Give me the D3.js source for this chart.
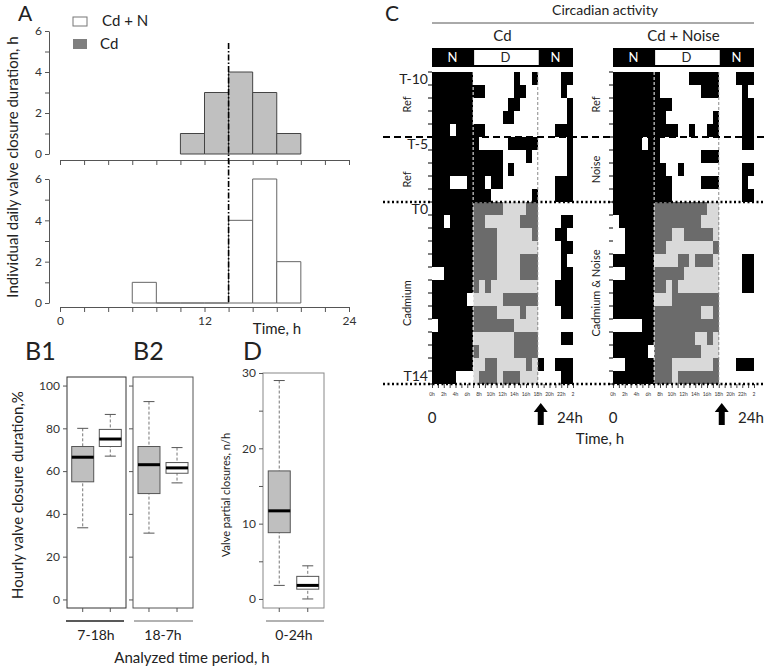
<!DOCTYPE html>
<html>
<head>
<meta charset="utf-8">
<script src="https://cdn.jsdelivr.net/npm/d3@7"></script>
<style>
  body { margin: 0; background: #fff; }
  text { font-family: Lato, "Open Sans", sans-serif; }
</style>
</head>
<body>
<svg id="fig" width="764" height="666"></svg>
<script>
// ---- data ----
const hourTicks = d3.range(0, 25, 2);
const cdBinStart = [10, 12, 14, 16, 18];
const cdCounts = [1, 3, 4, 3, 1];
const cdnBinStart = [6, 8, 10, 12, 14, 16, 18];
const cdnCounts = [1, 0, 0, 0, 4, 6, 2];
const splitHour = 14;

const periods = ['7-18h', '18-7h'];
// [low whisker, Q1, median, Q3, high whisker]
const cdHourly = [[33.5, 55, 66.5, 71.5, 80], [31, 49.5, 63, 71.5, 92.5]];
const cdnHourly = [[67, 71.5, 75, 79.5, 86.5], [54.5, 59, 61.5, 64, 71]];
const cdPartial = [1.8, 8.8, 11.7, 17, 29];
const cdnPartial = [0, 1.3, 1.8, 3, 4.4];

// actograms: one string per day, one char per hour, 1 = valves closed
const cdRows = [
  '111111100000001001000011',
  '111111111000001100000010',
  '111111100000011000000001',
  '111111100000110000000001',
  '111011111000000000000111',
  '111111110000011111000001',
  '111111111111000010000001',
  '111111111111010000000001',
  '111000111011000000000111',
  '111111111100000001000111',
  '111111111111000011000000',
  '110111111000000111000011',
  '111111111110000001000110',
  '111111111110000000000011',
  '111111111110000111000010',
  '001111111110000111000011',
  '111111110100000000000111',
  '111111000000111111000111',
  '111111111110000100000011',
  '011111111111110000000000',
  '111111100000001111000011',
  '111111110000001111000000',
  '111111100110000010100111',
  '111100001110111000000011'
];
const cdnRows = [
  '111111110000011111000111',
  '111111110000000111000010',
  '111111111100000000000011',
  '111111111000000001000011',
  '111111111110010011000011',
  '111110110000000000000011',
  '111111110000000111000000',
  '111111111001000000000011',
  '111111111100000111000010',
  '111111111100000000000011',
  '111111111111111100000000',
  '011111111111111000000000',
  '001111111100111110000000',
  '001111111000000001000000',
  '111111100001101110000011',
  '001111111111000000000011',
  '111111111010000000000011',
  '111111100011111111000000',
  '111111111111111001000000',
  '000001111111111111000000',
  '111111111111110010000000',
  '111111011111111000000000',
  '001111111100000001000111',
  '111111111101111111000000'
];
const dayMarks = [0, 5, 10, 24];
const labelRows = [0, 5, 10, 23];
const dayLabels = ['T-10', 'T-5', 'T0', 'T14'];
const cdSections = ['Ref', 'Ref', 'Cadmium'];
const cdnSections = ['Ref', 'Noise', 'Cadmium & Noise'];
const dayStart = 7, dayEnd = 18;

const svg = d3.select('#fig');

function txt(g, x, y, s, size, anchor) {
  return g.append('text').attr('x', x).attr('y', y).text(s)
    .attr('font-size', size).attr('text-anchor', anchor || 'middle').style('fill', '#222');
}
function styleAxis(g) {
  g.selectAll('path,line').attr('stroke', '#555');
  g.selectAll('text').attr('font-size', 12).style('fill', '#333')
    .style('font-family', 'Lato, sans-serif');
}

// ================= Panel A =================
const A = svg.append('g');
const xA = d3.scaleLinear().domain([0, 24]).range([60, 349]);
const yTop = d3.scaleLinear().domain([0, 6]).range([154, 31]);
const yBot = d3.scaleLinear().domain([0, 6]).range([303, 179]);

function hist(starts, counts, y, fill, stroke) {
  A.selectAll(null).data(starts).enter().append('path')
    .attr('d', (s, i) => `M${xA(s)},${y(0)}V${y(counts[i])}H${xA(s + 2)}V${y(0)}Z`)
    .attr('fill', fill).attr('stroke', stroke).attr('stroke-width', 1);
}
hist(cdBinStart, cdCounts, yTop, '#c0c0c0', '#444');
hist(cdnBinStart, cdnCounts, yBot, '#fff', '#666');

[yTop, yBot].forEach(y => {
  A.append('g').attr('transform', 'translate(49,0)')
    .call(d3.axisLeft(y).tickValues(d3.range(0, 7)).tickFormat(d => d % 2 ? '' : d)
      .tickSize(4).tickSizeOuter(0))
    .call(styleAxis);
});
A.append('g').attr('transform', 'translate(0,160)')
  .call(d3.axisBottom(xA).tickValues(hourTicks).tickFormat('').tickSize(5).tickSizeOuter(0))
  .call(styleAxis);
A.append('g').attr('transform', 'translate(0,307)')
  .call(d3.axisBottom(xA).tickValues(hourTicks).tickFormat(d => d % 12 ? '' : d)
    .tickSize(5).tickSizeOuter(0).tickPadding(4))
  .call(styleAxis);

A.append('line').attr('x1', xA(splitHour)).attr('x2', xA(splitHour))
  .attr('y1', 43).attr('y2', yBot(0))
  .attr('stroke', '#000').attr('stroke-width', 1.6).attr('stroke-dasharray', '6,2,1.5,2');

txt(A, 18, 21, 'A', 21, 'start');
A.append('rect').attr('x', 73).attr('y', 17).attr('width', 14).attr('height', 9)
  .attr('fill', '#fff').attr('stroke', '#777');
A.append('rect').attr('x', 73).attr('y', 39).attr('width', 14).attr('height', 10)
  .attr('fill', '#7f7f7f');
txt(A, 102, 26, 'Cd + N', 15, 'start');
txt(A, 100, 49, 'Cd', 15, 'start');
txt(A, 277, 334, 'Time, h', 15);
txt(A, 0, 0, 'Individual daily  valve closure duration, h', 15)
  .attr('transform', 'translate(18,167) rotate(-90)');

// ================= Panel B and D =================
const B = svg.append('g');
const yB = d3.scaleLinear().domain([-4, 104]).range([608, 377]);
const yD = d3.scaleLinear().domain([-1.2, 30]).range([608, 373]);

function boxPanel(x0, x1, y, sets, frameCol) {
  const xs = d3.scalePoint().domain(['Cd', 'Cd+N']).range([x0, x1]).padding(0.57);
  B.append('rect').attr('x', x0).attr('y', y.range()[1]).attr('width', x1 - x0)
    .attr('height', y.range()[0] - y.range()[1]).attr('fill', 'none').attr('stroke', frameCol);
  sets.forEach(([key, s, fill]) => {
    const cx = xs(key), w = 22, cw = 11;
    B.append('line').attr('x1', cx).attr('x2', cx).attr('y1', y(s[4])).attr('y2', y(s[0]))
      .attr('stroke', '#777').attr('stroke-dasharray', '3,2');
    [s[0], s[4]].forEach(v => B.append('line').attr('x1', cx - cw / 2).attr('x2', cx + cw / 2)
      .attr('y1', y(v)).attr('y2', y(v)).attr('stroke', '#555'));
    B.append('rect').attr('x', cx - w / 2).attr('y', y(s[3])).attr('width', w)
      .attr('height', y(s[1]) - y(s[3])).attr('fill', fill).attr('stroke', '#555');
    B.append('line').attr('x1', cx - w / 2).attr('x2', cx + w / 2).attr('y1', y(s[2]))
      .attr('y2', y(s[2])).attr('stroke', '#000').attr('stroke-width', 3);
    B.append('line').attr('x1', cx).attr('x2', cx).attr('y1', 608).attr('y2', 612)
      .attr('stroke', '#555');
  });
  return xs;
}
boxPanel(67, 126, yB, [['Cd', cdHourly[0], '#bfbfbf'], ['Cd+N', cdnHourly[0], '#fff']], '#333');
boxPanel(133, 193, yB, [['Cd', cdHourly[1], '#bfbfbf'], ['Cd+N', cdnHourly[1], '#fff']], '#555');
boxPanel(263, 324, yD, [['Cd', cdPartial, '#bfbfbf'], ['Cd+N', cdnPartial, '#fff']], '#888');

B.append('g').attr('transform', 'translate(67,0)')
  .call(d3.axisLeft(yB).tickValues(d3.range(0, 101, 20)).tickSize(4).tickSizeOuter(0))
  .call(styleAxis).select('.domain').remove();
B.append('g').attr('transform', 'translate(133,0)')
  .call(d3.axisLeft(yB).tickValues(d3.range(0, 101, 20)).tickFormat('').tickSize(4).tickSizeOuter(0))
  .call(styleAxis).select('.domain').remove();
B.append('g').attr('transform', 'translate(263,0)')
  .call(d3.axisLeft(yD).tickValues(d3.range(0, 31, 5)).tickFormat(d => d % 10 ? '' : d)
    .tickSize(4).tickSizeOuter(0))
  .call(styleAxis).select('.domain').remove();

[[66, 124, '#222'], [134, 193, '#999'], [266, 324, '#999']].forEach(([a, b, c]) =>
  B.append('line').attr('x1', a).attr('x2', b).attr('y1', 621).attr('y2', 621)
    .attr('stroke', c).attr('stroke-width', 1.5));
txt(B, 96, 640, periods[0], 14);
txt(B, 163, 640, periods[1], 14);
txt(B, 294, 640, '0-24h', 14);
txt(B, 192, 663, 'Analyzed time period, h', 15);
txt(B, 25, 360, 'B1', 25, 'start');
txt(B, 133, 360, 'B2', 25, 'start');
txt(B, 243, 360, 'D', 25, 'start');
txt(B, 0, 0, 'Hourly valve closure duration,%', 15).attr('transform', 'translate(23,495) rotate(-90)');
txt(B, 0, 0, 'Valve partial closures, n/h', 11).attr('transform', 'translate(230,495) rotate(-90)');

// ================= Panel C =================
const C = svg.append('g');
const yR = d3.scaleLinear().domain([0, 24]).range([72, 384]);
const yEnd = yR(24);

function actogram(x0, rows, title, sections, labelX) {
  const x = d3.scaleLinear().domain([0, 24]).range([x0, x0 + 141]);
  const g = C.append('g').attr('shape-rendering', 'crispEdges');
  rows.forEach((row, r) => {
    row.split('').forEach((c, h) => {
      const closed = c === '1';
      const gray = r >= dayMarks[2] && h >= dayStart && h < dayEnd;
      g.append('rect').attr('x', x(h)).attr('y', yR(r))
        .attr('width', x(h + 1) - x(h) + 0.4).attr('height', yR(r + 1) - yR(r) + 0.4)
        .attr('fill', gray ? (closed ? '#6b6b6b' : '#d9d9d9') : (closed ? '#000' : '#fff'));
    });
  });
  // light phase borders
  C.append('line').attr('x1', x(dayStart)).attr('x2', x(dayStart)).attr('y1', yR(0)).attr('y2', yEnd)
    .attr('stroke', '#fff').attr('stroke-dasharray', '3,2');
  C.append('line').attr('x1', x(dayEnd)).attr('x2', x(dayEnd)).attr('y1', yR(0)).attr('y2', yEnd)
    .attr('stroke', '#888').attr('stroke-dasharray', '3,2');
  // N / D bar
  C.append('rect').attr('x', x(0)).attr('y', 48).attr('width', x(24) - x(0)).attr('height', 19).attr('fill', '#000');
  C.append('rect').attr('x', x(dayStart) + 1).attr('y', 50).attr('width', x(dayEnd) - x(dayStart)).attr('height', 15).attr('fill', '#fff');
  txt(C, x(3.5), 62, 'N', 13).style('fill', '#fff');
  txt(C, x(21), 62, 'N', 13).style('fill', '#fff');
  txt(C, x(12.5), 62, 'D', 13);
  txt(C, (x(0) + x(24)) / 2, 41, title, 15);
  // day ticks on the left
  C.selectAll(null).data(d3.range(0, 25)).enter().append('line')
    .attr('x1', x0 - 4).attr('x2', x0).attr('y1', d => yR(d)).attr('y2', d => yR(d))
    .attr('stroke', '#000');
  // hour axis
  C.append('g').attr('transform', `translate(0,${yEnd})`)
    .call(d3.axisBottom(x).tickValues(d3.range(0, 25)).tickSize(4).tickSizeOuter(0).tickFormat(''))
    .call(g => g.select('.domain').remove())
    .call(g => g.selectAll('line').attr('stroke', '#444'));
  C.selectAll(null).data(hourTicks).enter().append('text')
    .attr('x', d => x(d)).attr('y', yEnd + 12).attr('text-anchor', 'middle')
    .attr('font-size', 5).style('fill', '#333').text(d => d === 24 ? '2' : d + 'h');
  txt(C, x(0), 423, '0', 15);
  txt(C, x(24) - 16, 423, '24h', 15, 'start');
  // arrow at 18h
  const ax = x(dayEnd) + 3;
  C.append('path').attr('d', `M${ax},403L${ax + 7},412H${ax + 3}V425H${ax - 3}V412H${ax - 7}Z`).attr('fill', '#000');
  // section labels
  sections.forEach((s, i) => {
    let cy = (yR(dayMarks[i]) + yR(dayMarks[i + 1])) / 2;
    if (labelX < 420 && i > 0) cy += 10;
    txt(C, 0, 0, s, 11).attr('transform', `translate(${labelX},${cy}) rotate(-90)`);
  });
  return x;
}
actogram(432, cdRows, 'Cd', cdSections, 411);
actogram(613, cdnRows, 'Cd + Noise', cdnSections, 600);

labelRows.forEach((d, i) => {
  txt(C, 428, yR(d) + (i === 3 ? 10 : 12), dayLabels[i], 14, 'end');
});
C.append('line').attr('x1', 383).attr('x2', 764).attr('y1', yR(5)).attr('y2', yR(5))
  .attr('stroke', '#000').attr('stroke-width', 2).attr('stroke-dasharray', '7,4');
[10, 24].forEach(d => C.append('line').attr('x1', 383).attr('x2', 764).attr('y1', yR(d)).attr('y2', yR(d))
  .attr('stroke', '#000').attr('stroke-width', 2.5).attr('stroke-dasharray', '2,2.5'));

txt(C, 385, 21, 'C', 21, 'start');
txt(C, 605, 15, 'Circadian activity', 14);
C.append('line').attr('x1', 432).attr('x2', 754).attr('y1', 23).attr('y2', 23).attr('stroke', '#555');
txt(C, 600, 444, 'Time, h', 15);
</script>
</body>
</html>
